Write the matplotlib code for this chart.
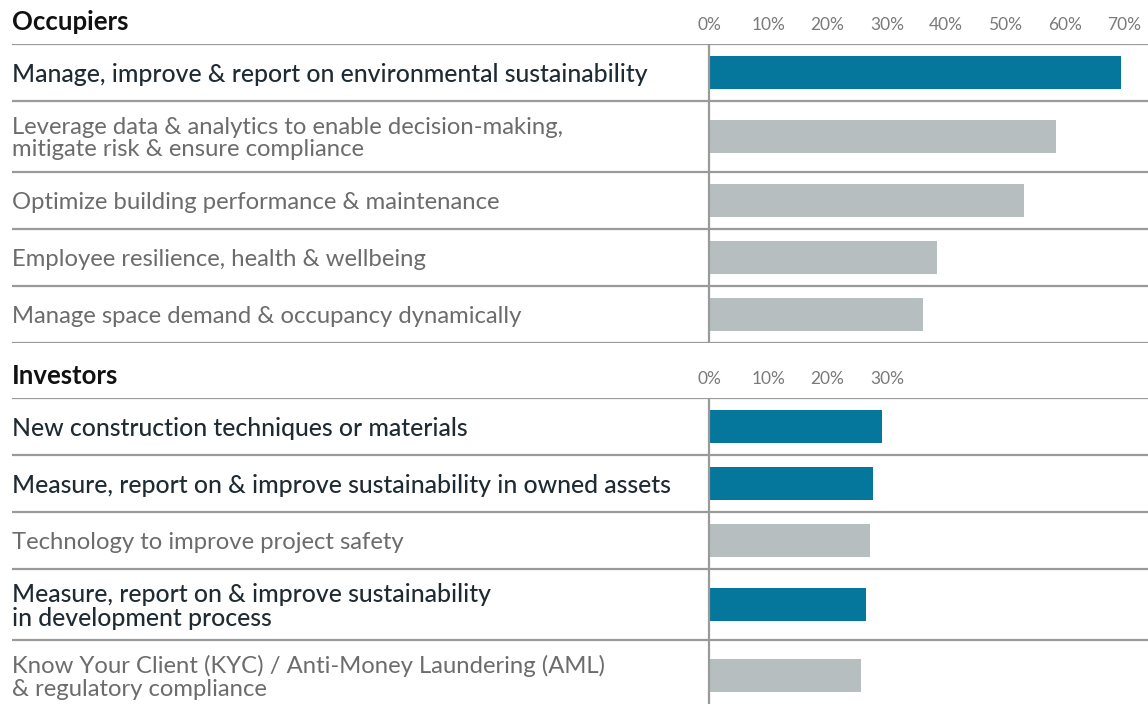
import matplotlib.pyplot as plt

# Occupiers panel
occ_labels = [
    "Manage, improve & report on environmental sustainability",
    "Leverage data & analytics to enable decision-making,\nmitigate risk & ensure compliance",
    "Optimize building performance & maintenance",
    "Employee resilience, health & wellbeing",
    "Manage space demand & occupancy dynamically",
]
occ_values = [69.4, 58.5, 53.1, 38.5, 36.1]
occ_highlight = [True, False, False, False, False]
occ_ticks = [0, 10, 20, 30, 40, 50, 60, 70]

# Investors panel
inv_labels = [
    "New construction techniques or materials",
    "Measure, report on & improve sustainability in owned assets",
    "Technology to improve project safety",
    "Measure, report on & improve sustainability\nin development process",
    "Know Your Client (KYC) / Anti-Money Laundering (AML)\n& regulatory compliance",
]
inv_values = [29.2, 27.7, 27.1, 26.5, 25.6]
inv_highlight = [True, True, False, True, False]
inv_ticks = [0, 10, 20, 30]

BLUE = "#05769c"
GREY_BAR = "#b6bebf"
LINE = "#9a9a9a"
DARK_TXT = "#1e2b33"
GREY_TXT = "#6c6c6c"
FONT = "Lato"

W, H = 1148, 704
fig = plt.figure(figsize=(W / 100, H / 100), dpi=100)

PX_PER_PCT = 5.93
LEFT, ZERO, RIGHT = 12, 709, 1148
ROW = 57  # pixels for a one-line row


def panel(top, title, labels, values, highlight, ticks):
    heights = [1.0 if "\n" not in s else 1.25 for s in labels]
    total = sum(heights)
    ax = fig.add_axes([LEFT / W, 1 - (top + total * ROW) / H,
                       (RIGHT - LEFT) / W, total * ROW / H])
    ax.set_xlim(-(ZERO - LEFT) / PX_PER_PCT, (RIGHT - ZERO) / PX_PER_PCT)
    ax.set_ylim(total, 0)
    for s in ax.spines.values():
        s.set_visible(False)
    ax.set_yticks([])
    ax.set_xticks(ticks)
    ax.set_xticklabels([f"{t}%" for t in ticks], fontfamily=FONT,
                       fontsize=12.5, color="#7a7a7a")
    ax.tick_params(axis="x", top=True, labeltop=True, bottom=False,
                   labelbottom=False, length=0, pad=8)

    y = 0
    ax.axhline(0, color=LINE, lw=1.6)
    for lab, v, hl, h in zip(labels, values, highlight, heights):
        c = y + h / 2
        ax.barh(c, v, height=0.58, color=BLUE if hl else GREY_BAR, zorder=2)
        ax.text(0, c + 0.03, lab, transform=ax.get_yaxis_transform(), ha="left",
                va="center", fontfamily=FONT,
                fontsize=17.8 if hl else 17.2,
                fontweight="medium" if hl else "normal",
                color=DARK_TXT if hl else GREY_TXT, linespacing=1.08)
        y += h
        ax.axhline(y, color=LINE, lw=1.6)
    ax.axvline(0, color=LINE, lw=1.6, zorder=3)

    fig.text(LEFT / W, 1 - (top - 22) / H, title, ha="left", va="center",
             fontfamily=FONT, fontsize=18.5, fontweight="bold", color="#111111")
    return ax


panel(44, "Occupiers", occ_labels, occ_values, occ_highlight, occ_ticks)
panel(398, "Investors", inv_labels, inv_values, inv_highlight, inv_ticks)

fig.savefig("out.png", dpi=100)
